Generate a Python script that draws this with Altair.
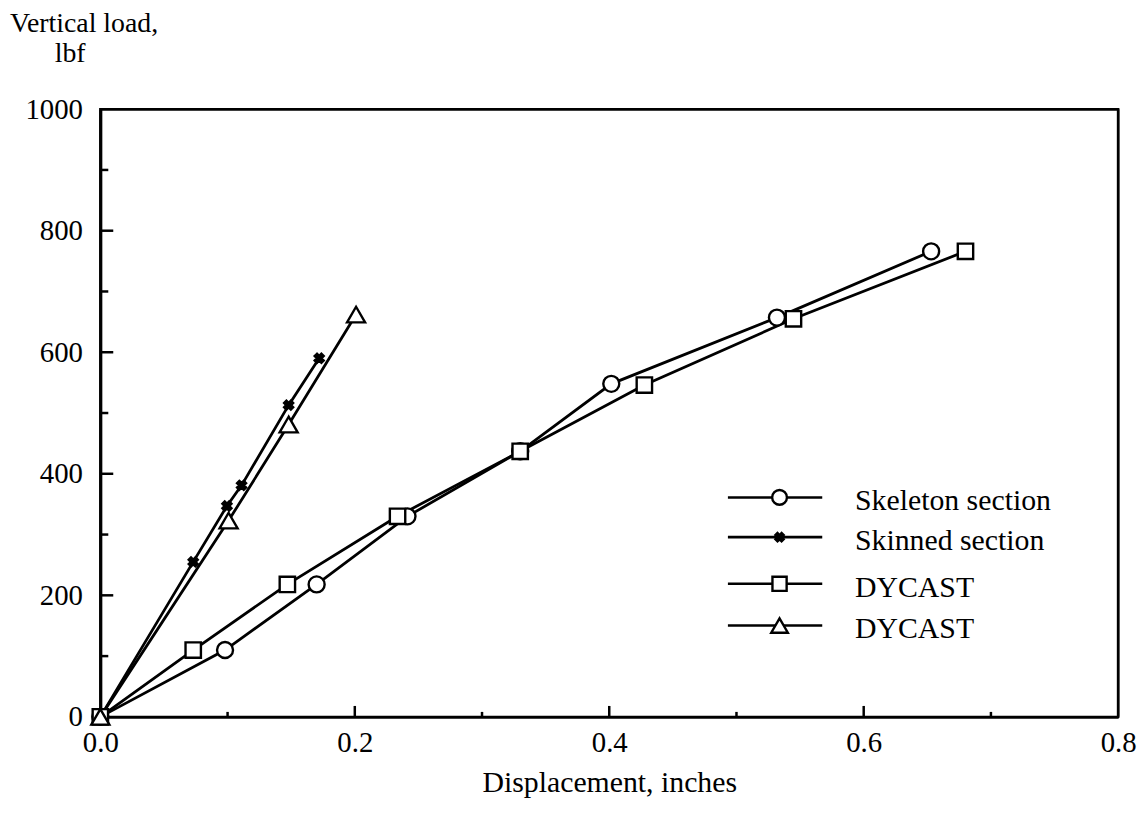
import altair as alt
import pandas as pd

# ---- data ----
skeleton_x = [0.0, 0.098, 0.170, 0.2414, 0.330, 0.4016, 0.5318, 0.653]
skeleton_y = [0, 110, 218, 330, 437, 548, 657, 766]

skinned_x = [0.0, 0.073, 0.0995, 0.111, 0.148, 0.172]
skinned_y = [0, 255, 347, 381, 513, 590]

dycast_sq_x = [0.0, 0.073, 0.147, 0.2336, 0.330, 0.4276, 0.5448, 0.680]
dycast_sq_y = [0, 110, 218, 330, 437, 546, 655, 766]

dycast_tri_x = [0.0, 0.1008, 0.148, 0.201]
dycast_tri_y = [0, 323, 481, 662]

series_names = ["Skeleton section", "Skinned section", "DYCAST", "DYCAST "]
legend_labels = ["Skeleton section", "Skinned section", "DYCAST", "DYCAST"]
shapes = ["circle", "cross", "square", "triangle-up"]
fills = ["white", "black", "white", "white"]
sizes = [260, 110, 240, 330]
angles = [0, 45, 0, 0]

x_major = [0.0, 0.2, 0.4, 0.6, 0.8]
x_minor_ticks = [0.1, 0.3, 0.5, 0.7]
x_major_ticks = [0.2, 0.4, 0.6]
y_major = [0, 200, 400, 600, 800, 1000]
y_major_ticks = [200, 400, 600, 800]
y_minor_ticks = [100, 300, 500, 700, 900]

FONT = "Liberation Serif, Times New Roman, Times, serif"
W, H = 1025, 612

rows = []
for name, xs, ys in [
    (series_names[0], skeleton_x, skeleton_y),
    (series_names[1], skinned_x, skinned_y),
    (series_names[2], dycast_sq_x, dycast_sq_y),
    (series_names[3], dycast_tri_x, dycast_tri_y),
]:
    for i, (xv, yv) in enumerate(zip(xs, ys)):
        rows.append({"series": name, "x": xv, "y": yv, "order": i})
df = pd.DataFrame(rows)

xscale = alt.Scale(domain=[0, 0.8], nice=False, zero=False)
yscale = alt.Scale(domain=[0, 1000], nice=False)

base = alt.Chart(df)

lines = base.mark_line(color="black", strokeWidth=2.8).encode(
    x=alt.X("x:Q", scale=xscale,
            axis=alt.Axis(values=x_major, format=".1f", ticks=False, grid=False,
                          domainColor="black", domainWidth=3,
                          labelFont=FONT, labelFontSize=29, labelColor="black",
                          labelPadding=12, labelFlush=False,
                          title="Displacement, inches", titleFont=FONT,
                          titleFontSize=30, titleFontWeight="normal",
                          titleColor="black", titlePadding=10)),
    y=alt.Y("y:Q", scale=yscale,
            axis=alt.Axis(values=y_major, format="d", ticks=False, grid=False,
                          domainColor="black", domainWidth=3,
                          labelFont=FONT, labelFontSize=29, labelColor="black",
                          labelPadding=18, labelFlush=False, title=None)),
    detail="series:N",
    order="order:Q",
)

point_layers = []
for name, shp, fl, sz, ang in zip(series_names, shapes, fills, sizes, angles):
    point_layers.append(
        alt.Chart(df[df["series"] == name]).mark_point(
            shape=shp, filled=True, fill=fl, stroke="black",
            strokeWidth=2.4 if fl == "white" else 1.5, size=sz, angle=ang, opacity=1
        ).encode(x=alt.X("x:Q", scale=xscale), y=alt.Y("y:Q", scale=yscale))
    )

# inward ticks
def tick_layer(vals, field, length, horizontal):
    d = pd.DataFrame({field: vals})
    if horizontal:
        return alt.Chart(d).mark_rule(color="black", strokeWidth=2.5).encode(
            x=alt.X(f"{field}:Q", scale=xscale), y=alt.value(H), y2=alt.value(H - length))
    return alt.Chart(d).mark_rule(color="black", strokeWidth=2.5).encode(
        y=alt.Y(f"{field}:Q", scale=yscale), x=alt.value(0), x2=alt.value(length))

ticks = [
    tick_layer(x_major_ticks, "tx", 11, True),
    tick_layer(x_minor_ticks, "tx", 5, True),
    tick_layer(y_major_ticks, "ty", 13, False),
    tick_layer(y_minor_ticks, "ty", 8, False),
]

# frame (top and right)
frame_d = pd.DataFrame({"k": [0]})
frame = [
    alt.Chart(frame_d).mark_rule(color="black", strokeWidth=2.5).encode(
        x=alt.value(0), x2=alt.value(W), y=alt.value(0)),
    alt.Chart(frame_d).mark_rule(color="black", strokeWidth=2.5).encode(
        x=alt.value(W), y=alt.value(0), y2=alt.value(H)),
]

# manual legend
leg_rows_y = [391, 431, 478, 520]
leg_layers = []
for lab, shp, fl, sz, ang, ly in zip(legend_labels, shapes, fills, sizes, angles, leg_rows_y):
    d = pd.DataFrame({"label": [lab]})
    c = alt.Chart(d)
    leg_layers.append(c.mark_rule(color="black", strokeWidth=2.6).encode(
        x=alt.value(632), x2=alt.value(727), y=alt.value(ly)))
    leg_layers.append(c.mark_point(shape=shp, filled=True, fill=fl, stroke="black",
                                   strokeWidth=2.4 if fl == "white" else 1.5,
                                   size=sz * 0.85, angle=ang, opacity=1).encode(
        x=alt.value(684), y=alt.value(ly)))
    leg_layers.append(c.mark_text(font=FONT, fontSize=30, align="left",
                                  baseline="middle", color="black", dy=4).encode(
        x=alt.value(760), y=alt.value(ly), text="label:N"))

ytitle1 = alt.Chart(pd.DataFrame({"t": ["Vertical load,"]})).mark_text(
    font=FONT, fontSize=28, align="left", baseline="alphabetic", color="black"
).encode(x=alt.value(-91), y=alt.value(-78), text="t:N")
ytitle2 = alt.Chart(pd.DataFrame({"t": ["lbf"]})).mark_text(
    font=FONT, fontSize=28, align="left", baseline="alphabetic", color="black"
).encode(x=alt.value(-46), y=alt.value(-48), text="t:N")

chart = alt.layer(lines, *point_layers, *ticks, *frame, *leg_layers, ytitle1, ytitle2).properties(
    width=W, height=H,
    background="white",
    autosize=alt.AutoSizeParams(type="none"),
    padding={"left": 93, "top": 99, "right": 22, "bottom": 104},
).configure_view(stroke="black", strokeWidth=2.5)

chart.save("out.html", embed_options={"renderer": "svg", "actions": False})
